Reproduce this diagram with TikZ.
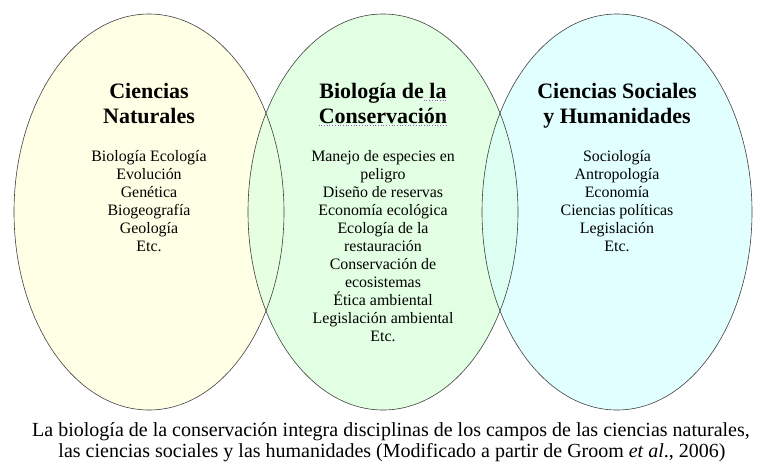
\documentclass[tikz,border=0pt]{standalone}
\usepackage{fontspec}
\setmainfont{Liberation Serif}
\definecolor{fillL}{HTML}{FFFFE6}
\definecolor{fillM}{HTML}{E3FFE3}
\definecolor{fillR}{HTML}{E2FFFF}
\definecolor{ovLM}{HTML}{E6FFE0}
\definecolor{ovMR}{HTML}{DCFFF2}
\definecolor{spell}{HTML}{A050D0}
\begin{document}
\begin{tikzpicture}[x=1pt,y=-1pt,
  venn/.style={draw=black!75, line width=0.6pt},
  titletext/.style={anchor=base, inner sep=0pt, font=\fontsize{22}{25}\selectfont\bfseries},
  bodytext/.style={anchor=base, inner sep=0pt, font=\fontsize{15.9}{18}\selectfont},
  captext/.style={anchor=base, inner sep=0pt, font=\fontsize{20}{21}\selectfont}]
\useasboundingbox (0,0) rectangle (767,471);
\fill[white] (0,0) rectangle (767,471);
% fills
\fill[fillL] (149,212) ellipse [x radius=135pt, y radius=198pt];
\fill[fillM] (383,212) ellipse [x radius=135pt, y radius=198pt];
\fill[fillR] (617,212) ellipse [x radius=135pt, y radius=198pt];
\begin{scope}
  \clip (149,212) ellipse [x radius=135pt, y radius=198pt];
  \fill[ovLM] (383,212) ellipse [x radius=135pt, y radius=198pt];
\end{scope}
\begin{scope}
  \clip (617,212) ellipse [x radius=135pt, y radius=198pt];
  \fill[ovMR] (383,212) ellipse [x radius=135pt, y radius=198pt];
\end{scope}
% outlines
\draw[venn] (149,212) ellipse [x radius=135pt, y radius=198pt];
\draw[venn] (383,212) ellipse [x radius=135pt, y radius=198pt];
\draw[venn] (617,212) ellipse [x radius=135pt, y radius=198pt];
% titles
\node[titletext] (tL1) at (149,98) {Ciencias};
\node[titletext] (tL2) at (149,123) {Naturales};
\node[titletext] (tM1) at (383,98) {Biología de la};
\node[titletext] (tM2) at (383,123) {Conservación};
\node[titletext] (tR1) at (617,98) {Ciencias Sociales};
\node[titletext] (tR2) at (617,123) {y Humanidades};
% spell-check marks
\draw[spell, dotted, line width=0.7pt] ([xshift=-1pt,yshift=-2.5pt]tM1.base east) ++(-22,0) -- ++(22,0);
\draw[spell, dotted, line width=0.7pt] ([yshift=-2.5pt]tM2.base west) -- ([yshift=-2.5pt]tM2.base east);
% bodies
\foreach \t [count=\i] in {Biología Ecología,Evolución,Genética,Biogeografía,Geología,Etc.}
  \node[bodytext] (bL\i) at (149,{161.5+18*(\i-1)}) {\t};
\foreach \t [count=\i] in {Manejo de especies en,peligro,Diseño de reservas,Economía ecológica,Ecología de la,restauración,Conservación de,ecosistemas,Ética ambiental,Legislación ambiental,Etc.}
  \node[bodytext] (bM\i) at (383,{161.5+18*(\i-1)}) {\t};
\foreach \t [count=\i] in {Sociología,Antropología,Economía,Ciencias políticas,Legislación,Etc.}
  \node[bodytext] (bR\i) at (617,{161.5+18*(\i-1)}) {\t};
% caption
\node[captext] (cap1) at (391,436) {La biología de la conservación integra disciplinas de los campos de las ciencias naturales,};
\node[captext] (cap2) at (392,457) {las ciencias sociales y las humanidades (Modificado a partir de Groom \textit{et al}., 2006)};
\end{tikzpicture}
\end{document}
